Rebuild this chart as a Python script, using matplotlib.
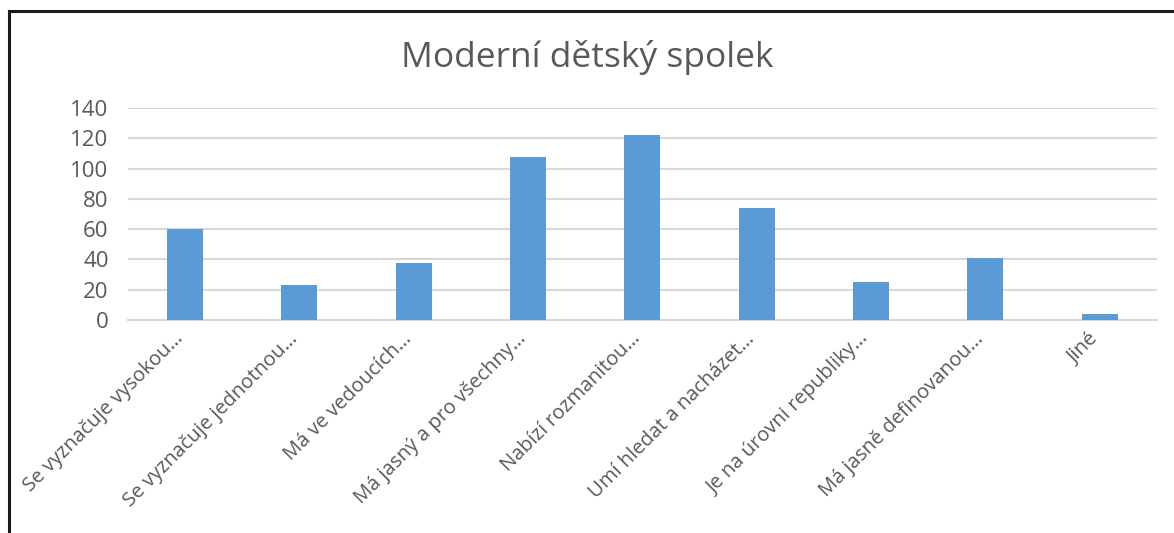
import matplotlib
matplotlib.use("Agg")
import matplotlib.pyplot as plt
import matplotlib.transforms as mtransforms
from matplotlib.lines import Line2D

categories = [
    "Se vyznačuje vysokou…",
    "Se vyznačuje jednotnou…",
    "Má ve vedoucích…",
    "Má jasný a pro všechny…",
    "Nabízí rozmanitou…",
    "Umí hledat a nacházet…",
    "Je na úrovni republiky…",
    "Má jasně definovanou…",
    "Jiné",
]
values = [60, 23, 38, 108, 122, 74, 25, 41, 4]
yticks = [0, 20, 40, 60, 80, 100, 120, 140]

plt.rcParams["font.family"] = ["Open Sans", "DejaVu Sans"]

fig = plt.figure(figsize=(11.74, 5.33), dpi=100)
ax = fig.add_axes([0.109, 0.3996, 0.8765, 0.3974])

x = range(len(values))
ax.bar(x, values, width=0.315, color="#5b9bd5", zorder=3)
ax.set_xlim(-0.5, len(values) - 0.5)
ax.set_ylim(0, 140)
ax.set_yticks(yticks)
ax.tick_params(axis="y", length=0, labelsize=16, labelcolor="#595959", pad=14)
ax.tick_params(axis="x", length=0, pad=2)
ax.set_xticks(list(x))
ax.set_xticklabels(categories, rotation=45, ha="right", va="top",
                   rotation_mode="anchor", fontsize=14.5, color="#595959")
shift = mtransforms.ScaledTranslation(-0.12, -0.06, fig.dpi_scale_trans)
for lab in ax.get_xticklabels():
    lab.set_transform(lab.get_transform() + shift)
ax.grid(axis="y", color="#d9d9d9", linewidth=1.5, zorder=0)
for s in ["top", "right", "left"]:
    ax.spines[s].set_visible(False)
ax.spines["bottom"].set_color("#d9d9d9")
ax.spines["bottom"].set_linewidth(1.5)

fig.text(0.5, 0.893, "Moderní dětský spolek", ha="center", va="center",
         fontsize=25.5, color="#595959")

# outer frame (left and top edges visible)
fig.add_artist(Line2D([9 / 1174, 9 / 1174], [0, 1 - 11 / 533],
                      color="#1a1a1a", linewidth=2.2, transform=fig.transFigure))
fig.add_artist(Line2D([9 / 1174, 1], [1 - 11 / 533, 1 - 11 / 533],
                      color="#1a1a1a", linewidth=2.2, transform=fig.transFigure))

fig.savefig("out.png", dpi=100)
